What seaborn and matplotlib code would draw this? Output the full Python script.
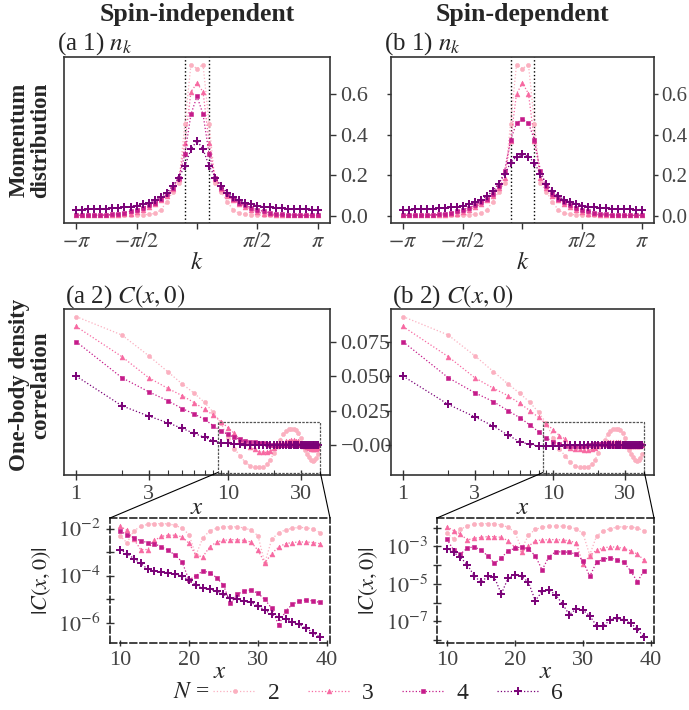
import numpy as np
import seaborn as sns
import matplotlib
matplotlib.use("Agg")
import matplotlib.pyplot as plt
from matplotlib.patches import Rectangle, ConnectionPatch
from matplotlib.ticker import FixedLocator, NullFormatter, LogLocator

# ---------------- data ----------------
N_list = [2, 3, 4, 6]

# momentum grid k = 2*pi*j/40, j = -20..20
j_idx = np.arange(-20, 21)
k_vals = 2 * np.pi * j_idx / 40

# n_k for j = 0..20 (the distributions are symmetric in k)
nk_ind_2 = [0.727, 0.747, 0.455, 0.165, 0.120, 0.070, 0.030, 0.013, 0.008, 0.006, 0.005,
            0.004, 0.004, 0.003, 0.003, 0.003, 0.003, 0.003, 0.003, 0.003, 0.003]
nk_ind_3 = [0.656, 0.612, 0.362, 0.185, 0.135, 0.100, 0.078, 0.058, 0.045, 0.031, 0.020,
            0.012, 0.008, 0.006, 0.005, 0.004, 0.004, 0.003, 0.003, 0.003, 0.003]
nk_ind_4 = [0.590, 0.502, 0.306, 0.190, 0.140, 0.107, 0.083, 0.066, 0.053, 0.041, 0.031,
            0.023, 0.017, 0.012, 0.008, 0.006, 0.005, 0.005, 0.004, 0.004, 0.004]
nk_ind_6 = [0.372, 0.329, 0.248, 0.190, 0.149, 0.116, 0.094, 0.078, 0.066, 0.058, 0.051,
            0.046, 0.043, 0.040, 0.038, 0.036, 0.035, 0.034, 0.033, 0.032, 0.032]

nk_dep_2 = nk_ind_2
nk_dep_3 = [0.656, 0.603, 0.370, 0.190, 0.137, 0.101, 0.078, 0.058, 0.045, 0.031, 0.020,
            0.012, 0.008, 0.006, 0.005, 0.004, 0.004, 0.003, 0.003, 0.003, 0.003]
nk_dep_4 = [0.478, 0.458, 0.375, 0.223, 0.150, 0.110, 0.085, 0.067, 0.053, 0.041, 0.031,
            0.023, 0.017, 0.012, 0.008, 0.006, 0.005, 0.005, 0.004, 0.004, 0.004]
nk_dep_6 = [0.304, 0.293, 0.263, 0.205, 0.160, 0.123, 0.098, 0.080, 0.068, 0.059, 0.052,
            0.047, 0.043, 0.040, 0.038, 0.036, 0.035, 0.034, 0.033, 0.032, 0.032]

# C(x,0) for x = 1..9
x_short = np.arange(1, 10)
c_ind_2 = [0.0934, 0.0800, 0.0650, 0.0534, 0.0444, 0.0376, 0.0310, 0.0238, 0.0158]
c_ind_3 = [0.0862, 0.0643, 0.0490, 0.0413, 0.0359, 0.0308, 0.0260, 0.0218, 0.0170]
c_ind_4 = [0.0752, 0.0490, 0.0388, 0.0323, 0.0265, 0.0226, 0.0187, 0.0141, 0.0102]
c_ind_6 = [0.0502, 0.0286, 0.0211, 0.0163, 0.0121, 0.0085, 0.0056, 0.0032, 0.0017]

c_dep_2 = c_ind_2
c_dep_3 = [0.0862, 0.0643, 0.0490, 0.0413, 0.0359, 0.0303, 0.0250, 0.0201, 0.0153]
c_dep_4 = [0.0752, 0.0490, 0.0381, 0.0316, 0.0250, 0.0199, 0.0146, 0.0097, 0.0053]
c_dep_6 = [0.0502, 0.0296, 0.0206, 0.0138, 0.0073, 0.0024, 0.0005, -0.0007, -0.0007]

# log10|C(x,0)| for x = 10..39 and the sign of C at each x
x_long = np.arange(10, 40)
lc_ind_2 = [-2.30, -2.60, -2.10, -1.90, -1.82, -1.79, -1.79, -1.80, -1.86, -1.98,
            -2.25, -3.13, -2.40, -2.10, -1.98, -1.93, -1.92, -1.93, -1.97, -2.06,
            -2.30, -3.46, -2.45, -2.18, -2.05, -1.98, -1.95, -1.96, -2.02, -2.17]
lc_ind_3 = [-1.90, -2.07, -2.45, -2.89, -2.89, -2.50, -2.33, -2.28, -2.28, -2.35,
            -2.62, -3.13, -3.20, -2.78, -2.57, -2.50, -2.47, -2.47, -2.50, -2.57,
            -2.92, -3.46, -3.06, -2.78, -2.64, -2.59, -2.57, -2.57, -2.59, -2.64]
lc_ind_4 = [-2.11, -2.25, -2.38, -2.52, -2.59, -2.64, -2.78, -2.92, -3.13, -3.41,
            -4.19, -4.00, -3.80, -3.87, -4.08, -4.40, -5.18, -4.80, -4.64, -4.61,
            -4.75, -5.01, -5.39, -6.10, -5.50, -5.22, -5.07, -5.04, -5.07, -5.14]
lc_ind_6 = [-2.89, -3.06, -3.27, -3.48, -3.72, -3.80, -3.83, -3.87, -3.93, -4.02,
            -4.19, -4.40, -4.54, -4.58, -4.64, -4.80, -4.94, -5.01, -5.08, -5.14,
            -5.29, -5.46, -5.65, -5.77, -5.86, -5.96, -6.07, -6.24, -6.42, -6.62]
sg_ind_2 = "+----------++++++++++---------"
sg_ind_3 = "++++--------+++++++++---------"
sg_ind_4 = "++++++++++------+++++++-------"
sg_ind_6 = "++++++++++++++++++++++++++++++"

lc_dep_2 = lc_ind_2
lc_dep_3 = [-1.95, -2.16, -2.34, -2.66, -2.57, -2.52, -2.48, -2.48, -2.52, -2.70,
            -3.05, -3.32, -3.00, -2.70, -2.66, -2.64, -2.64, -2.66, -2.70, -2.82,
            -3.94, -3.50, -3.20, -3.09, -3.02, -3.05, -3.10, -3.23, -3.41, -3.73]
lc_dep_4 = [-2.61, -3.20, -3.41, -3.09, -3.02, -3.20, -3.50, -3.91, -3.62, -3.23,
            -3.11, -3.02, -3.14, -3.50, -4.26, -3.55, -3.29, -3.29, -3.32, -3.41,
            -3.77, -4.60, -3.85, -3.68, -3.62, -3.71, -3.85, -4.30, -4.88, -4.30]
lc_dep_6 = [-3.14, -3.32, -3.59, -3.98, -4.56, -4.92, -4.60, -4.65, -5.54, -4.69,
            -4.51, -4.60, -4.92, -5.90, -5.40, -5.33, -5.58, -6.08, -6.64, -6.34,
            -6.40, -6.70, -7.23, -7.26, -6.91, -6.84, -6.91, -7.10, -7.41, -7.85]
sg_dep_2 = sg_ind_2
sg_dep_3 = "+++--------+++++++++----------"
sg_dep_4 = "++-----+++++++-------+++++++--"
sg_dep_6 = "-----+++-----+++++----++++++++"

# ---------------- style ----------------
colors = {2: "#fbb0c0", 3: "#f768a1", 4: "#c51b8a", 6: "#7a0177"}
markers = {2: "o", 3: "^", 4: "s", 6: "+"}
msize = {2: 3.0, 3: 3.5, 4: 3.2, 6: 5.5}
mew = {2: 0.4, 3: 0.4, 4: 0.4, 6: 1.4}

sns.set_theme(style="ticks")
plt.rcParams["font.family"] = ["Liberation Serif", "DejaVu Serif"]
plt.rcParams["mathtext.fontset"] = "stix"
plt.rcParams["axes.edgecolor"] = "#333333"
plt.rcParams["axes.linewidth"] = 1.2
plt.rcParams["xtick.color"] = "#333333"
plt.rcParams["ytick.color"] = "#333333"
plt.rcParams["xtick.labelcolor"] = "#444444"
plt.rcParams["ytick.labelcolor"] = "#444444"
plt.rcParams["xtick.labelsize"] = 16
plt.rcParams["ytick.labelsize"] = 16

W, H = 689, 710


def box(l, t, r, b):
    return [l / W, 1 - b / H, (r - l) / W, (b - t) / H]


def full_nk(half):
    half = np.asarray(half)
    return np.concatenate([half[:0:-1], half])


def signed(logabs, signs):
    s = np.array([1.0 if c == "+" else -1.0 for c in signs])
    return s * 10.0 ** np.asarray(logabs)


def draw(ax, x, y, n):
    sns.lineplot(x=x, y=y, ax=ax, color=colors[n], marker=markers[n],
                 markersize=msize[n], markeredgecolor=colors[n],
                 markeredgewidth=mew[n], linestyle=":", linewidth=0.9,
                 legend=False, errorbar=None)
    return ax.lines[-1]


fig = plt.figure(figsize=(6.89, 7.10), dpi=100)

columns = [
    dict(l=64, r=330, l3=110, name="Spin-independent", tag="a",
         nk={2: nk_ind_2, 3: nk_ind_3, 4: nk_ind_4, 6: nk_ind_6},
         cs={2: c_ind_2, 3: c_ind_3, 4: c_ind_4, 6: c_ind_6},
         lc={2: lc_ind_2, 3: lc_ind_3, 4: lc_ind_4, 6: lc_ind_6},
         sg={2: sg_ind_2, 3: sg_ind_3, 4: sg_ind_4, 6: sg_ind_6},
         ylog=[1e-2, 1e-3, 1e-4, 1e-5, 1e-6],
         ylab=["$10^{-2}$", "", "$10^{-4}$", "", "$10^{-6}$"]),
    dict(l=391, r=654, l3=437, name="Spin-dependent", tag="b",
         nk={2: nk_dep_2, 3: nk_dep_3, 4: nk_dep_4, 6: nk_dep_6},
         cs={2: c_dep_2, 3: c_dep_3, 4: c_dep_4, 6: c_dep_6},
         lc={2: lc_dep_2, 3: lc_dep_3, 4: lc_dep_4, 6: lc_dep_6},
         sg={2: sg_dep_2, 3: sg_dep_3, 4: sg_dep_4, 6: sg_dep_6},
         ylog=[1e-2, 1e-3, 1e-4, 1e-5, 1e-6, 1e-7, 1e-8],
         ylab=["", "$10^{-3}$", "", "$10^{-5}$", "", "$10^{-7}$", ""]),
]

handles = []
for ci, col in enumerate(columns):
    ax1 = fig.add_axes(box(col["l"], 57, col["r"], 223))
    ax2 = fig.add_axes(box(col["l"], 309, col["r"], 475))
    ax3 = fig.add_axes(box(col["l3"], 518, col["r"], 643))
    ax2.set_xscale("log")
    ax3.set_yscale("log")

    for n in N_list:
        h = draw(ax1, k_vals, full_nk(col["nk"][n]), n)
        if ci == 0:
            handles.append(h)
        c_all = np.concatenate([col["cs"][n], signed(col["lc"][n], col["sg"][n])])
        draw(ax2, np.concatenate([x_short, x_long]), c_all, n)
        draw(ax3, x_long, 10.0 ** np.asarray(col["lc"][n]), n)

    # --- momentum distribution ---
    for kf in (-np.pi / 10, np.pi / 10):
        ax1.axvline(kf, color="black", ls=":", lw=1.0, zorder=0)
    ax1.set_xticks([-np.pi, -np.pi / 2, 0, np.pi / 2, np.pi])
    ax1.set_xticklabels([r"$-\pi$", r"$-\pi/2$", "", r"$\pi/2$", r"$\pi$"])
    ax1.set_yticks([0.0, 0.2, 0.4, 0.6])
    ax1.set_yticklabels(["0.0", "0.2", "0.4", "0.6"])
    ax1.tick_params(axis="x", direction="out", length=4, width=1)
    if ci == 0:
        ax1.tick_params(axis="y", direction="out", length=4, width=1,
                        left=False, right=True, labelleft=False, labelright=True)
    else:
        ax1.tick_params(axis="y", direction="out", length=3, width=1, pad=2,
                        labelsize=15, left=True, right=True,
                        labelleft=False, labelright=True)
    ax1.set_xlabel("$k$", fontsize=18, labelpad=0)
    ax1.set_ylabel("")

    # --- one-body density correlation ---
    ax2.set_xticks([1, 3, 10, 30])
    ax2.set_xticklabels(["1", "3", "10", "30"])
    ax2.xaxis.set_minor_locator(FixedLocator([2, 4, 5, 6, 7, 8, 9, 20, 40]))
    ax2.xaxis.set_minor_formatter(NullFormatter())
    ax2.tick_params(axis="x", which="major", direction="inout", length=7, width=1)
    ax2.tick_params(axis="x", which="minor", direction="in", length=3.5, width=0.8)
    ax2.set_yticks([0.0, 0.025, 0.05, 0.075])
    ax2.set_yticklabels(["\u22120.000", "0.025", "0.050", "0.075"])
    if ci == 0:
        ax2.tick_params(axis="y", direction="out", length=4, width=1,
                        left=False, right=True, labelleft=False, labelright=True)
    else:
        ax2.tick_params(axis="y", direction="out", length=4, width=1,
                        left=True, right=False, labelleft=False, labelright=False)
    ax2.set_xlabel("$x$", fontsize=18, labelpad=-5)
    ax2.set_ylabel("")

    # --- zoomed |C(x,0)| ---
    ax3.set_xticks([10, 20, 30, 40])
    ax3.set_yticks(col["ylog"])
    ax3.set_yticklabels(col["ylab"])
    ax3.yaxis.set_minor_locator(LogLocator(base=10, subs=np.arange(2, 10)))
    ax3.yaxis.set_minor_formatter(NullFormatter())
    ax3.tick_params(axis="y", which="major", direction="inout", length=6, width=1)
    ax3.tick_params(axis="y", which="minor", direction="inout", length=3, width=0.7)
    ax3.tick_params(axis="x", which="major", direction="inout", length=4, width=1)
    ax3.set_xlabel("$x$", fontsize=18, labelpad=-6)
    ax3.set_ylabel("$|C(x,0)|$", fontsize=16)
    for sp in ax3.spines.values():
        sp.set_linestyle((0, (4, 2)))
        sp.set_color("#222222")
        sp.set_linewidth(1.2)

    # indicator box on ax2 matching the zoomed x range
    x0, x1 = ax3.get_xlim()
    y0, y1 = -0.0199, 0.017
    ax2.add_patch(Rectangle((x0, y0), x1 - x0, y1 - y0, fill=False,
                            ls=(0, (2, 1)), lw=0.9, ec="#555555", zorder=5))
    for xa, xb in ((x0, 0), (x1, 1)):
        con = ConnectionPatch(xyA=(xa, y0), coordsA=ax2.transData,
                              xyB=(xb, 1), coordsB=ax3.transAxes,
                              color="black", lw=0.8)
        fig.add_artist(con)

    # labels
    xc = (col["l"] + col["r"]) / 2
    fig.text(xc / W, 1 - 15 / H, col["name"], ha="center", va="center",
             fontsize=18.5, fontweight="bold")
    fig.text((col["l"] - 7) / W, 1 - 50 / H, "(%s 1) $n_k$" % col["tag"],
             fontsize=18, va="baseline")
    fig.text((col["l"] + 1) / W, 1 - 303 / H, "(%s 2) $C(x,0)$" % col["tag"],
             fontsize=18, va="baseline")

fig.text(30 / W, 1 - 140 / H, "Momentum\ndistribution", rotation=90,
         ha="center", va="center", fontsize=16.5, fontweight="bold",
         multialignment="center", linespacing=1.05)
fig.text(30 / W, 1 - 385 / H, "One-body density\ncorrelation", rotation=90,
         ha="center", va="center", fontsize=16.5, fontweight="bold",
         multialignment="center", linespacing=1.05)

fig.text(191 / W, 1 - 693 / H, "$N$ =", ha="center", va="center", fontsize=17)
fig.legend(handles, [str(n) for n in N_list], loc="center",
           bbox_to_anchor=(388 / W, 1 - 693 / H), ncol=4, frameon=False,
           fontsize=17, handlelength=1.8, handletextpad=0.5, columnspacing=1.2)

fig.savefig("out.png", dpi=100)
